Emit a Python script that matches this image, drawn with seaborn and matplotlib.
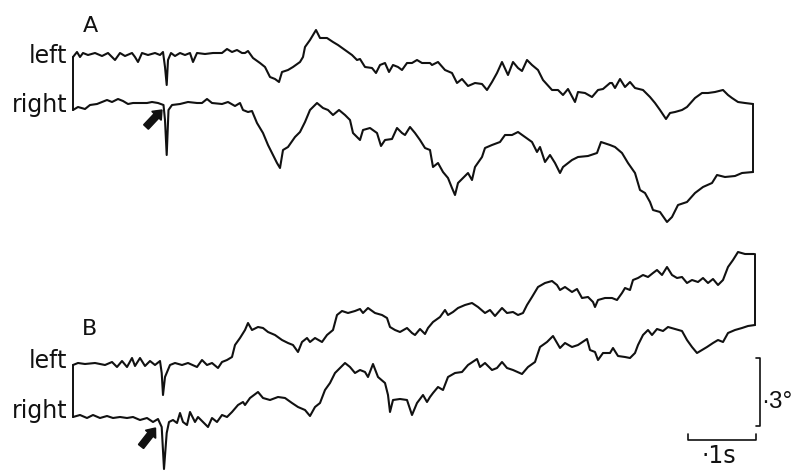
import numpy as np
import pandas as pd
import seaborn as sns
import matplotlib
matplotlib.use("Agg")
import matplotlib.pyplot as plt
from matplotlib.patches import FancyArrow

# ---------------------------------------------------------------------------
# Digitised eye-position traces, read off the reference record.
# Readings are in chart units: 680 units per second horizontally,
# 680/3 units per degree vertically (y grows downward on the chart).
# ---------------------------------------------------------------------------
a_left_x = [73, 77, 80, 83, 88, 95, 102, 108, 115, 120, 125, 132, 135, 138, 142, 148, 155, 160, 163, 165,
            166.7, 168, 171, 175, 180, 185, 190, 193, 197, 205, 213, 222, 227, 232, 237, 242, 245, 248, 253, 260,
            265, 270, 275, 279, 282, 288, 293, 300, 303, 305, 310, 316, 320, 327, 333, 338, 345, 352, 357, 360,
            365, 372, 376, 380, 385, 389, 393, 398, 402, 407, 412, 417, 422, 430, 432, 438, 445, 452, 457, 462,
            468, 475, 482, 487, 492, 497, 502, 508, 513, 518, 522, 527, 532, 538, 543, 552, 558, 563, 568, 575,
            578, 585, 592, 598, 603, 610, 612, 615, 620, 625, 630, 635, 643, 650, 655, 660, 666, 670, 675, 682,
            687, 695, 702, 708, 715, 723, 728, 732, 738, 745, 753]
a_left_y = [57, 52, 57, 53, 55, 53, 56, 53, 60, 53, 56, 53, 57, 62, 53, 55, 53, 55, 52, 67,
            85, 60, 53, 56, 53, 55, 53, 62, 53, 54, 53, 53, 49, 52, 50, 53, 53, 51, 58, 63,
            67, 77, 79, 82, 72, 70, 67, 62, 57, 47, 40, 30, 38, 38, 42, 45, 50, 55, 60, 59,
            67, 68, 73, 65, 63, 72, 65, 67, 70, 63, 63, 60, 63, 63, 65, 62, 70, 73, 83, 79,
            86, 83, 84, 90, 82, 73, 62, 75, 62, 68, 71, 60, 65, 70, 80, 90, 90, 95, 89, 102,
            92, 93, 97, 90, 89, 83, 83, 88, 79, 87, 82, 88, 90, 97, 103, 110, 119, 113, 112, 110,
            107, 98, 93, 93, 92, 90, 95, 98, 102, 103, 104]

a_right_x = [73, 78, 85, 90, 97, 102, 107, 112, 118, 123, 128, 133, 140, 147, 152, 158, 163.5, 165, 166.7, 168.5,
             172, 180, 188, 197, 202, 207, 212, 222, 228, 235, 240, 243, 248, 252, 257, 263, 268, 272, 277, 280,
             283, 288, 295, 300, 305, 310, 317, 323, 328, 333, 339, 345, 350, 353, 360, 363, 370, 377, 381, 385,
             392, 397, 402, 405, 410, 415, 420, 425, 430, 433, 438, 443, 448, 452, 455, 458, 463, 468, 472, 475,
             482, 485, 492, 500, 505, 512, 518, 525, 532, 537, 540, 545, 550, 555, 560, 563, 572, 578, 588, 597,
             601, 610, 615, 622, 628, 635, 640, 645, 650, 653, 660, 667, 672, 678, 687, 695, 703, 712, 717, 725,
             735, 742, 753]
a_right_y = [110, 107, 109, 105, 104, 102, 100, 102, 99, 101, 104, 103, 103, 103, 102, 103, 105, 120, 155, 110,
             105, 104, 102, 103, 103, 99, 103, 104, 102, 106, 103, 110, 112, 111, 123, 133, 145, 153, 163, 168,
             150, 147, 137, 132, 122, 110, 103, 108, 110, 115, 110, 115, 120, 133, 140, 130, 128, 133, 146, 140,
             139, 128, 133, 135, 127, 133, 140, 148, 150, 167, 163, 172, 178, 188, 195, 183, 178, 173, 180, 167,
             157, 148, 145, 142, 135, 135, 132, 137, 142, 152, 147, 162, 155, 163, 173, 167, 160, 157, 156, 153,
             142, 145, 147, 153, 163, 173, 190, 193, 202, 210, 212, 222, 217, 205, 202, 193, 187, 183, 175, 177,
             176, 173, 172]

b_left_x = [73, 78, 85, 95, 105, 112, 117, 122, 127, 132, 135, 140, 145, 150, 155, 160, 161.7, 163, 165, 170,
            175, 182, 188, 197, 202, 207, 212, 218, 222, 227, 232, 235, 240, 245, 248, 252, 258, 263, 268, 275,
            282, 288, 293, 298, 302, 307, 310, 315, 322, 327, 333, 337, 342, 348, 355, 360, 363, 368, 375, 382,
            387, 390, 395, 400, 407, 412, 415, 420, 425, 428, 433, 440, 445, 448, 453, 458, 465, 472, 478, 485,
            490, 495, 502, 507, 513, 518, 523, 527, 532, 538, 545, 552, 557, 560, 565, 572, 577, 582, 588, 593,
            595, 598, 605, 612, 617, 622, 625, 630, 633, 638, 643, 648, 653, 657, 662, 667, 672, 677, 682, 687,
            692, 698, 703, 708, 713, 718, 723, 728, 733, 738, 745, 754]
b_left_y = [365, 363, 364, 363, 365, 362, 367, 361, 367, 358, 366, 358, 366, 361, 365, 361, 373, 395, 377, 365,
            363, 365, 363, 367, 360, 365, 363, 368, 362, 360, 357, 345, 338, 330, 323, 330, 327, 328, 332, 335,
            340, 343, 345, 352, 342, 338, 342, 338, 342, 335, 330, 315, 311, 313, 311, 309, 313, 308, 313, 315,
            318, 327, 330, 332, 328, 333, 335, 329, 334, 328, 322, 317, 310, 315, 312, 308, 305, 303, 307, 313,
            310, 316, 308, 313, 312, 315, 313, 305, 297, 287, 283, 281, 285, 290, 287, 292, 289, 298, 297, 302,
            307, 300, 298, 298, 300, 293, 288, 290, 280, 278, 275, 277, 273, 270, 275, 267, 275, 278, 277, 283,
            280, 282, 278, 283, 279, 285, 280, 267, 260, 252, 254, 254]

b_right_x = [73, 80, 87, 93, 100, 107, 113, 120, 127, 133, 140, 147, 153, 158, 161.7, 164, 166.7, 169, 173, 177,
             180, 183, 187, 190, 195, 198, 203, 208, 212, 217, 222, 227, 232, 238, 243, 245, 250, 258, 263, 270,
             278, 285, 292, 298, 305, 310, 315, 320, 325, 330, 335, 340, 345, 350, 355, 360, 365, 368, 373, 378,
             385, 388, 390, 393, 400, 407, 412, 417, 423, 427, 430, 433, 438, 443, 448, 455, 462, 468, 477, 480,
             485, 492, 497, 502, 507, 513, 522, 528, 535, 540, 547, 553, 560, 565, 572, 578, 587, 590, 595, 598,
             603, 610, 613, 618, 625, 630, 635, 638, 643, 648, 652, 657, 663, 668, 675, 682, 687, 692, 697, 702,
             707, 713, 718, 723, 728, 735, 742, 748, 755]
b_right_y = [417, 415, 418, 415, 418, 416, 418, 417, 418, 417, 420, 418, 422, 419, 427, 469, 433, 422, 420, 423,
             413, 422, 425, 412, 422, 417, 422, 427, 418, 422, 415, 417, 412, 405, 402, 405, 398, 392, 398, 400,
             397, 398, 403, 407, 410, 416, 407, 403, 390, 383, 373, 368, 363, 367, 373, 370, 372, 377, 364, 377,
             383, 395, 412, 400, 399, 400, 415, 403, 395, 402, 397, 393, 387, 390, 377, 373, 372, 365, 359, 367,
             363, 370, 368, 362, 368, 370, 374, 367, 362, 347, 342, 336, 348, 343, 347, 345, 339, 350, 352, 360,
             353, 353, 348, 356, 357, 358, 353, 345, 335, 330, 335, 329, 331, 327, 329, 331, 340, 347, 353, 350,
             347, 343, 340, 342, 333, 330, 328, 326, 325]

trace_names = ["A left", "A right", "B left", "B right"]
panel_labels = ["A", "B"]
eye_labels = ["left", "right"]
scale_deg = 0.3
scale_s = 0.1
scale_labels = ["\u00b73\u00b0", "\u00b71s"]

# ---------------------------------------------------------------------------
PX_PER_S = 680.0
PX_PER_DEG = PX_PER_S / 3.0
X0 = 73.0
W, H = 792, 473
INK = "#111111"

raw = {"A left": (a_left_x, a_left_y), "A right": (a_right_x, a_right_y),
       "B left": (b_left_x, b_left_y), "B right": (b_right_x, b_right_y)}
frames = []
for name in trace_names:
    xs, ys = raw[name]
    frames.append(pd.DataFrame({"trace": name,
                                "t": (np.asarray(xs, float) - X0) / PX_PER_S,
                                "pos": -np.asarray(ys, float) / PX_PER_DEG}))
df = pd.concat(frames, ignore_index=True)

sns.set_style("white")
plt.rcParams["font.family"] = ["DejaVu Sans"]
plt.rcParams["text.color"] = INK

fig = plt.figure(figsize=(W / 100, H / 100), dpi=100)
ax = fig.add_axes([0, 0, 1, 1])
sns.lineplot(data=df, x="t", y="pos", units="trace", estimator=None, sort=False,
             color=INK, lw=1.5, ax=ax, legend=False)

# calibration connectors joining left/right traces at start and end
for p in panel_labels:
    l = df[df.trace == f"{p} left"]
    r = df[df.trace == f"{p} right"]
    for i in (0, -1):
        tx = (l.t.iloc[i] + r.t.iloc[i]) / 2
        ax.plot([tx, tx], [l.pos.iloc[i], r.pos.iloc[i]], color=INK, lw=1.4)

ax.set_xlim(-X0 / PX_PER_S, (W - X0) / PX_PER_S)
ax.set_ylim(-H / PX_PER_DEG, 0)
ax.axis("off")

# scale bars (in data units)
vx = (760 - X0) / PX_PER_S
vtop = -358 / PX_PER_DEG
tick_t = 4.5 / PX_PER_S
ax.plot([vx - tick_t, vx, vx, vx - tick_t], [vtop, vtop, vtop - scale_deg, vtop - scale_deg],
        color=INK, lw=1.2)
hy = -439.5 / PX_PER_DEG
hx1 = (755.5 - X0) / PX_PER_S
tick_d = 6 / PX_PER_DEG
ax.plot([hx1 - scale_s, hx1 - scale_s, hx1, hx1], [hy + tick_d, hy, hy, hy + tick_d],
        color=INK, lw=1.2)

# layout overlay in chart (pixel-like) units for labels and arrows
lay = fig.add_axes([0, 0, 1, 1])
lay.set_xlim(0, W)
lay.set_ylim(H, 0)
lay.axis("off")
lay.patch.set_alpha(0)

lay.text(90, 32, panel_labels[0], ha="center", va="baseline", fontsize=16, color=INK)
lay.text(90, 335, panel_labels[1], ha="center", va="baseline", fontsize=16, color=INK)
for base_l, base_r in ((63, 112), (368, 418)):
    lay.text(67.5, base_l, eye_labels[0], ha="right", va="baseline", fontsize=17, color=INK)
    lay.text(67.5, base_r, eye_labels[1], ha="right", va="baseline", fontsize=17, color=INK)

lay.text(761.5, 408, scale_labels[0], ha="left", va="baseline", fontsize=17.5,
         family=["Liberation Sans", "DejaVu Sans"], color=INK)
lay.text(719, 463, scale_labels[1], ha="center", va="baseline", fontsize=17, color=INK)

for (tx, ty, dx, dy) in ((146, 127, 16, -17), (141, 446.5, 14.5, -18.5)):
    lay.add_patch(FancyArrow(tx, ty, dx, dy, width=6.5, head_width=13, head_length=8,
                             length_includes_head=True, color=INK))

fig.savefig("out.png", dpi=100)
